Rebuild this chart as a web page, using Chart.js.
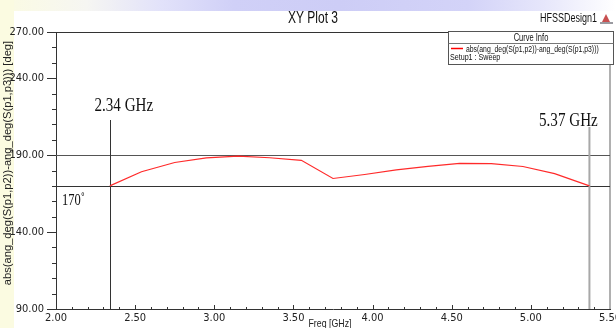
<!DOCTYPE html>
<html>
<head>
<meta charset="utf-8">
<script src="https://cdn.jsdelivr.net/npm/chart.js@4.4.1/dist/chart.umd.min.js"></script>
<style>
  html, body { margin: 0; padding: 0; width: 616px; height: 328px; overflow: hidden; background: #ffffff; }
  #band { position: absolute; left: 0; top: 0; width: 616px; height: 11px;
    background: linear-gradient(to right, #fbfbe2 0%, #f6f6f2 14%, #e2e2fa 26%, #d0d0f7 38%, #cdcdf6 55%, #d3d3f8 76%, #e6e6fb 88%, #ffffff 100%); }
  #strip { position: absolute; left: 0; top: 0; width: 14px; height: 328px; background: #fbfbe1; }
  #wrap { position: absolute; left: 0; top: 0; width: 616px; height: 328px; }
</style>
</head>
<body>
<div id="band"></div>
<div id="strip"></div>
<div id="wrap"><canvas id="plot" width="616" height="328"></canvas></div>
<script>
// Sweep: frequency (GHz) and phase difference |ang(S12) - ang(S13)| (deg)
const freqGHz      = [2.34, 2.54, 2.75, 2.95, 3.15, 3.35, 3.55, 3.75, 3.95, 4.15, 4.35, 4.55, 4.75, 4.95, 5.15, 5.37];
const phaseDiffDeg = [170.0, 179.2, 185.2, 188.2, 189.4, 188.3, 186.6, 174.8, 177.4, 180.4, 182.7, 184.6, 184.5, 182.6, 178.0, 170.0];

// Axis ticks
const yTickValues = [90, 140, 190, 240, 270];
const xRange = [2.0, 5.5];
const yRange = [90, 270];

// Markers and reference levels
const markerFreqs  = [2.34, 5.37];
const markerLabels = ['2.34 GHz', '5.37 GHz'];
const refLevels    = [190, 170];
const refLabel     = '170\u02DA';

const plotTitle   = 'XY Plot 3';
const designName  = 'HFSSDesign1';
const yAxisTitle  = 'abs(ang_deg(S(p1,p2))-ang_deg(S(p1,p3))) [deg]';
const xAxisTitle  = 'Freq [GHz]';
const legendHead  = 'Curve Info';
const traceName   = 'abs(ang_deg(S(p1,p2))-ang_deg(S(p1,p3)))';
const traceSetup  = 'Setup1 : Sweep';

const SANS = '"Liberation Sans", Arial, sans-serif';
const SERIF = '"Liberation Serif", "Times New Roman", serif';

// draw horizontally condensed text
function condText(ctx, text, x, y, font, sx, align, color) {
  ctx.save();
  ctx.font = font;
  ctx.fillStyle = color || '#000';
  ctx.textBaseline = 'alphabetic';
  ctx.textAlign = 'left';
  const w = ctx.measureText(text).width * sx;
  const x0 = align === 'center' ? x - w / 2 : align === 'right' ? x - w : x;
  ctx.translate(x0, y);
  ctx.scale(sx, 1);
  ctx.fillText(text, 0, 0);
  ctx.restore();
}

function line(ctx, x1, y1, x2, y2, color, width) {
  ctx.save();
  ctx.strokeStyle = color;
  ctx.lineWidth = width;
  ctx.beginPath();
  ctx.moveTo(x1, y1);
  ctx.lineTo(x2, y2);
  ctx.stroke();
  ctx.restore();
}

const hfssDecor = {
  id: 'hfssDecor',
  beforeDatasetsDraw(chart) {
    const { ctx, chartArea: a, scales: { x, y } } = chart;
    // frame: top and right edges
    line(ctx, a.left, Math.round(a.top) + 0.5, a.right, Math.round(a.top) + 0.5, '#333', 1);
    line(ctx, x.getPixelForValue(xRange[1]), a.top, x.getPixelForValue(xRange[1]), a.bottom, '#b0b0b0', 2);

    // minor ticks on y (outside) and x (inside)
    for (let v = yRange[0] + 10; v < yRange[1]; v += 10) {
      if (yTickValues.includes(v)) continue;
      const py = Math.round(y.getPixelForValue(v)) + 0.5;
      line(ctx, a.left - 4, py, a.left, py, '#333', 1);
    }
    for (let i = 1; i < 35; i++) {
      const f = xRange[0] + i * 0.1;
      const px = Math.round(x.getPixelForValue(f)) + 0.5;
      const len = (i % 5 === 0) ? 4 : 2;
      line(ctx, px, a.bottom, px, a.bottom - len, '#333', 1);
    }

    // reference levels
    refLevels.forEach((lv, i) => {
      const py = Math.round(y.getPixelForValue(lv)) + 0.5;
      line(ctx, a.left, py, a.right, py, i === 0 ? '#555' : '#333', 1.2);
    });

    // frequency markers
    const m0 = Math.round(x.getPixelForValue(markerFreqs[0])) + 0.5;
    line(ctx, m0, 120, m0, a.bottom, '#333', 1);
    const m1 = x.getPixelForValue(markerFreqs[1]);
    line(ctx, m1, 127, m1, a.bottom, '#a8a8a8', 2);
  },
  afterDraw(chart) {
    const { ctx, chartArea: a, scales: { x, y } } = chart;

    // headings
    condText(ctx, plotTitle, 313, 23, '16px ' + SANS, 0.75, 'center', '#111');
    condText(ctx, designName, 597, 22, '12px ' + SANS, 0.75, 'right', '#111');
    // small design icon
    ctx.save();
    ctx.fillStyle = '#c85050';
    ctx.beginPath(); ctx.moveTo(606, 14); ctx.lineTo(602, 22); ctx.lineTo(610, 22); ctx.closePath(); ctx.fill();
    ctx.fillStyle = '#9a9aa0';
    ctx.fillRect(600, 22, 13, 2);
    ctx.restore();

    // axis titles
    ctx.save();
    ctx.translate(11, 163);
    ctx.rotate(-Math.PI / 2);
    condText(ctx, yAxisTitle, 0, 0, '11.5px ' + SANS, 0.97, 'center', '#222');
    ctx.restore();
    condText(ctx, xAxisTitle, 330, 327, '11px ' + SANS, 0.8, 'center', '#222');

    // marker labels
    condText(ctx, markerLabels[0], x.getPixelForValue(markerFreqs[0]) + 14, 111, '18px ' + SERIF, 0.84, 'center', '#111');
    condText(ctx, markerLabels[1], x.getPixelForValue(markerFreqs[1]) - 21, 126, '18px ' + SERIF, 0.84, 'center', '#111');
    condText(ctx, refLabel, 62, 205, '16px ' + SERIF, 0.78, 'left', '#111');

    // curve info box
    const bx = 448.5, by = 31.5, bw = 165, bh = 33;
    ctx.save();
    ctx.fillStyle = '#ffffff';
    ctx.fillRect(bx, by, bw, bh);
    ctx.strokeStyle = '#555';
    ctx.lineWidth = 1;
    ctx.strokeRect(bx, by, bw, bh);
    line(ctx, bx, by + 12, bx + bw, by + 12, '#777', 1);
    ctx.restore();
    condText(ctx, legendHead, bx + bw / 2, by + 9, '10px ' + SANS, 0.75, 'center', '#111');
    line(ctx, 451, 48.5, 463, 48.5, '#ff0000', 1.5);
    condText(ctx, traceName, 466, 52, '9.5px ' + SANS, 0.72, 'left', '#111');
    condText(ctx, traceSetup, 450, 60, '9.5px ' + SANS, 0.75, 'left', '#111');
  }
};

new Chart(document.getElementById('plot'), {
  type: 'scatter',
  data: {
    datasets: [{
      data: freqGHz.map((f, i) => ({ x: f, y: phaseDiffDeg[i] })),
      showLine: true,
      borderColor: '#ff2a2a',
      borderWidth: 1.2,
      pointRadius: 0,
      tension: 0
    }]
  },
  options: {
    responsive: false,
    animation: false,
    events: [],
    layout: { padding: { top: 32, right: 6, left: 0, bottom: 0 } },
    plugins: { legend: { display: false }, title: { display: false }, tooltip: { enabled: false } },
    scales: {
      x: {
        type: 'linear',
        min: xRange[0], max: xRange[1],
        grid: { display: false, drawTicks: false },
        border: { display: true, color: '#333', width: 1 },
        ticks: {
          stepSize: 0.5, autoSkip: false, maxRotation: 0, padding: 3,
          color: '#222',
          font: { family: '"Liberation Sans Narrow", "DejaVu Sans Condensed", Arial, sans-serif', size: 11 },
          callback: v => Number(v).toFixed(2)
        },
        afterFit: s => { s.height = 19; s.paddingLeft = 0; s.paddingRight = 0; }
      },
      y: {
        type: 'linear',
        min: yRange[0], max: yRange[1],
        afterBuildTicks: s => { s.ticks = yTickValues.map(v => ({ value: v })); },
        grid: { display: true, drawOnChartArea: false, drawTicks: true, tickLength: 9, color: '#333' },
        border: { display: true, color: '#333', width: 1 },
        ticks: {
          padding: 3, color: '#222',
          font: { family: '"Liberation Sans Narrow", "DejaVu Sans Condensed", Arial, sans-serif', size: 11 },
          callback: v => Number(v).toFixed(2)
        },
        afterFit: s => { s.width = 56; s.paddingTop = 0; s.paddingBottom = 0; }
      }
    }
  },
  plugins: [hfssDecor]
});
</script>
</body>
</html>
